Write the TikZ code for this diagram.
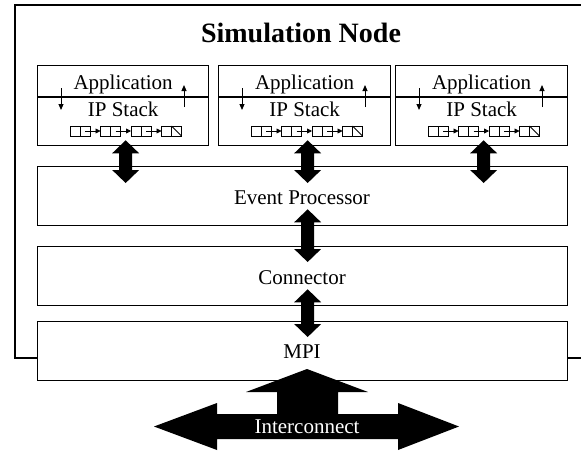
\documentclass[tikz,border=0pt]{standalone}
\usepackage{fontspec}
\setmainfont{Liberation Serif}
\usetikzlibrary{arrows.meta,calc}

% a chain of four queue elements, #1/#2 = top left corner
\newcommand\pktchain[2]{%
  \foreach \i in {0,1,2,3} {
    \draw[cell] (#1+\i*30.5,#2) rectangle (#1+\i*30.5+20,#2+10);
    \draw[cell] (#1+\i*30.5+10,#2) -- (#1+\i*30.5+10,#2+10);
  }
  \foreach \i in {0,1,2} {
    \draw[cell,-{Triangle[length=5pt,width=5pt]}] (#1+\i*30.5+15,#2+5) -- (#1+\i*30.5+30.5,#2+5);
  }
  \draw[cell] (#1+3*30.5+10,#2) -- (#1+3*30.5+20,#2+10);
}

\begin{document}
\begin{tikzpicture}[x=1pt,y=-1pt,
  box/.style={draw,line width=1.3pt,fill=white,inner sep=0pt,anchor=north west},
  lbl/.style={anchor=base,inner sep=0pt,font=\fontsize{21}{25}\selectfont},
  cell/.style={line width=0.8pt},
  flow/.style={line width=1pt,-{Triangle[length=6pt,width=5pt]}},
  fatarrow/.style={to path={let \p1=(\tikztostart), \p2=(\tikztotarget) in
    (\x1,\y1) -- (\x1+13.5pt,\y1-13pt) -- (\x1+6.5pt,\y1-13pt) -- (\x1+6.5pt,\y2+13pt)
    -- (\x1+13.5pt,\y2+13pt) -- (\x1,\y2) -- (\x1-13.5pt,\y2+13pt) -- (\x1-6.5pt,\y2+13pt)
    -- (\x1-6.5pt,\y1-13pt) -- (\x1-13.5pt,\y1-13pt) -- cycle}}
]
\path[use as bounding box] (0,0) rectangle (581,450);
\clip (0,0) rectangle (581,450);

% outer frame of the simulation node
\draw[line width=2.2pt] (15,5) rectangle (620,358);
\node[anchor=base,inner sep=0pt,font=\bfseries\fontsize{28}{32}\selectfont] (title) at (301,42) {Simulation Node};

% application / IP stack boxes
\foreach \n/\x/\w in {1/37/171, 2/218/172, 3/395/172} {
  \node[box,minimum width=\w pt,minimum height=80pt] (s\n) at (\x,65) {};
  \draw[line width=1.3pt] ($(s\n.north west)+(0,32)$) -- ($(s\n.north east)+(0,32)$);
  \node[lbl] (app\n) at ($(s\n.north)+(0,24.3)$) {Application};
  \node[lbl] (ip\n) at ($(s\n.north)+(0,51)$) {IP Stack};
  \draw[flow] (\x+24,88) -- (\x+24,110);
  \draw[flow] (\x+147,107) -- (\x+147,85);
  \pktchain{\x+33}{126}
}

% layer boxes
\node[box,minimum width=530pt,minimum height=59pt] (ep) at (37,166) {};
\node[lbl] (eplbl) at (302,204) {Event Processor};
\node[box,minimum width=530pt,minimum height=59pt] (conn) at (37,246) {};
\node[lbl] (connlbl) at (302,284) {Connector};
\node[box,minimum width=530pt,minimum height=59pt] (mpi) at (37,321) {};
\node[lbl] (mpilbl) at (302,358) {MPI};

% thick bidirectional links
\coordinate (t1) at ($(s1.south)+(2.5,-6)$);
\coordinate (b1) at ($(t1 |- ep.north)+(0,17)$);
\coordinate (t2) at ($(s2.south)+(3,-6)$);
\coordinate (b2) at ($(t2 |- ep.north)+(0,17)$);
\coordinate (t3) at ($(s3.south)+(2,-6)$);
\coordinate (b3) at ($(t3 |- ep.north)+(0,17)$);
\coordinate (t4) at ($(t2 |- ep.south)+(0,-17)$);
\coordinate (b4) at ($(t2 |- conn.north)+(0,16)$);
\coordinate (t5) at ($(t2 |- conn.south)+(0,-17)$);
\coordinate (b5) at ($(t2 |- mpi.north)+(0,16)$);
\foreach \k in {1,...,5} { \fill (t\k) to[fatarrow] (b\k); }

% interconnect arrow feeding MPI
\fill (154,426.5) -- (217,403) -- (217,414) -- (277,414) -- (277,392) -- (246,392)
  -- (307,369) -- (368,392) -- (338,392) -- (338,414) -- (398,414) -- (398,403)
  -- (459,426.5) -- (398,450) -- (398,439) -- (217,439) -- (217,450) -- cycle;
\node[lbl,text=white] (ic) at (307,433) {Interconnect};
\end{tikzpicture}
\end{document}
